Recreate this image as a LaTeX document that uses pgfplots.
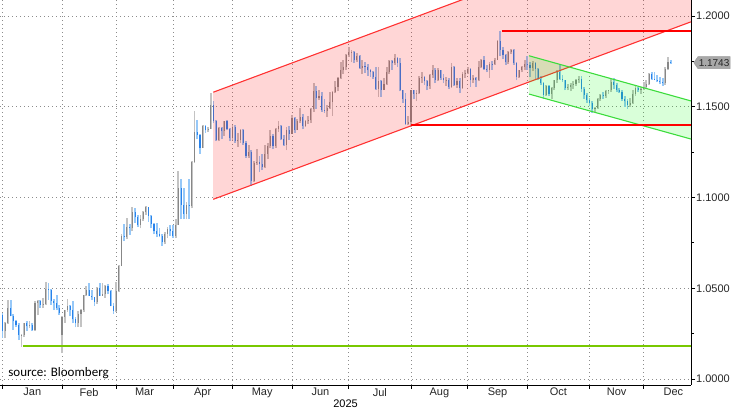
\documentclass[border=0pt]{standalone}
\usepackage{fontspec}
\setmainfont{Liberation Sans}
\newfontfamily\srcfont{Carlito}
\usepackage{pgfplots}
\usepackage{pgfplotstable}
\pgfplotsset{compat=1.18}
\usetikzlibrary{shapes.symbols}

\definecolor{upbody}{RGB}{135,135,135}
\definecolor{upwick}{RGB}{195,195,195}
\definecolor{dnbody}{RGB}{40,130,235}
\definecolor{dnwick}{RGB}{150,200,248}
\definecolor{chanred}{RGB}{255,50,50}
\definecolor{changreen}{RGB}{60,220,60}
\definecolor{limeline}{RGB}{120,200,0}
\definecolor{tagfill}{RGB}{168,168,168}

% EUR/USD daily bars, i = trading day of 2025 (0 = 2 Jan)
\pgfplotstableread{
i o h l c
0 1.0354 1.0363 1.0226 1.0265
1 1.0265 1.0313 1.0224 1.0308
2 1.0308 1.0437 1.0303 1.0390
3 1.0390 1.0436 1.0345 1.0345
4 1.0345 1.0360 1.0272 1.0318
5 1.0318 1.0325 1.0286 1.0300
6 1.0300 1.0310 1.0214 1.0243
7 1.0243 1.0248 1.0178 1.0245
8 1.0245 1.0310 1.0230 1.0307
9 1.0307 1.0320 1.0267 1.0290
10 1.0290 1.0318 1.0280 1.0300
11 1.0300 1.0310 1.0266 1.0272
12 1.0272 1.0432 1.0266 1.0420
13 1.0420 1.0433 1.0350 1.0430
14 1.0430 1.0437 1.0392 1.0410
15 1.0410 1.0445 1.0390 1.0415
16 1.0415 1.0533 1.0410 1.0495
17 1.0495 1.0530 1.0435 1.0490
18 1.0490 1.0495 1.0410 1.0430
19 1.0430 1.0440 1.0380 1.0420
20 1.0420 1.0465 1.0380 1.0390
21 1.0390 1.0410 1.0355 1.0362
22 1.0245 1.0345 1.0141 1.0344
23 1.0344 1.0380 1.0310 1.0378
24 1.0378 1.0442 1.0370 1.0403
25 1.0403 1.0410 1.0345 1.0380
26 1.0380 1.0430 1.0306 1.0328
27 1.0328 1.0340 1.0285 1.0307
28 1.0307 1.0375 1.0286 1.0360
29 1.0360 1.0384 1.0285 1.0381
30 1.0381 1.0464 1.0368 1.0464
31 1.0464 1.0513 1.0458 1.0490
32 1.0490 1.0528 1.0456 1.0459
33 1.0459 1.0491 1.0434 1.0449
34 1.0449 1.0452 1.0402 1.0425
35 1.0425 1.0505 1.0415 1.0500
36 1.0500 1.0529 1.0456 1.0460
37 1.0460 1.0529 1.0460 1.0466
38 1.0466 1.0520 1.0448 1.0510
39 1.0510 1.0525 1.0466 1.0485
40 1.0485 1.0490 1.0400 1.0400
41 1.0400 1.0420 1.0360 1.0375
42 1.0375 1.0533 1.0370 1.0485
43 1.0485 1.0630 1.0480 1.0625
44 1.0625 1.0797 1.0620 1.0790
45 1.0790 1.0854 1.0760 1.0785
46 1.0785 1.0888 1.0770 1.0835
47 1.0835 1.0855 1.0795 1.0833
48 1.0833 1.0947 1.0813 1.0918
49 1.0918 1.0940 1.0860 1.0890
50 1.0890 1.0903 1.0840 1.0850
51 1.0850 1.0905 1.0830 1.0880
52 1.0880 1.0926 1.0870 1.0920
53 1.0920 1.0955 1.0905 1.0945
54 1.0945 1.0950 1.0865 1.0900
55 1.0900 1.0905 1.0830 1.0855
56 1.0855 1.0860 1.0797 1.0815
57 1.0815 1.0860 1.0780 1.0800
58 1.0800 1.0830 1.0780 1.0790
59 1.0790 1.0800 1.0735 1.0753
60 1.0753 1.0808 1.0742 1.0800
61 1.0800 1.0835 1.0775 1.0825
62 1.0825 1.0850 1.0790 1.0815
63 1.0815 1.0850 1.0778 1.0790
64 1.0790 1.0880 1.0775 1.0850
65 1.0850 1.1145 1.0850 1.1050
66 1.1050 1.1100 1.0880 1.0960
67 1.0960 1.1050 1.0880 1.0910
68 1.0910 1.0975 1.0880 1.0960
69 1.0960 1.1100 1.0880 1.0955
70 1.0955 1.1200 1.0940 1.1195
71 1.1195 1.1475 1.1190 1.1360
72 1.1360 1.1425 1.1320 1.1345
73 1.1345 1.1350 1.1240 1.1275
74 1.1275 1.1400 1.1270 1.1395
75 1.1395 1.1400 1.1355 1.1370
76 1.1370 1.1390 1.1360 1.1380
77 1.1380 1.1573 1.1380 1.1510
78 1.1510 1.1530 1.1410 1.1420
79 1.1420 1.1425 1.1310 1.1315
80 1.1315 1.1390 1.1310 1.1385
81 1.1385 1.1390 1.1320 1.1365
82 1.1365 1.1420 1.1340 1.1420
83 1.1420 1.1425 1.1370 1.1380
84 1.1380 1.1385 1.1310 1.1330
85 1.1330 1.1400 1.1315 1.1390
86 1.1390 1.1400 1.1300 1.1310
87 1.1310 1.1357 1.1280 1.1315
88 1.1315 1.1380 1.1300 1.1370
89 1.1370 1.1380 1.1290 1.1300
90 1.1300 1.1310 1.1220 1.1230
91 1.1230 1.1290 1.1220 1.1250
92 1.1250 1.1260 1.1065 1.1090
93 1.1090 1.1200 1.1085 1.1190
94 1.1190 1.1265 1.1180 1.1195
95 1.1195 1.1230 1.1140 1.1185
96 1.1185 1.1240 1.1150 1.1170
97 1.1170 1.1290 1.1160 1.1240
98 1.1240 1.1300 1.1210 1.1285
99 1.1285 1.1370 1.1270 1.1340
100 1.1340 1.1350 1.1265 1.1285
101 1.1285 1.1385 1.1275 1.1375
102 1.1375 1.1420 1.1360 1.1395
103 1.1395 1.1400 1.1315 1.1325
104 1.1325 1.1345 1.1285 1.1290
105 1.1290 1.1390 1.1260 1.1370
106 1.1370 1.1395 1.1315 1.1350
107 1.1350 1.1455 1.1350 1.1440
108 1.1440 1.1445 1.1355 1.1370
109 1.1370 1.1435 1.1370 1.1420
110 1.1420 1.1495 1.1410 1.1445
111 1.1445 1.1460 1.1375 1.1395
112 1.1395 1.1425 1.1390 1.1420
113 1.1420 1.1450 1.1405 1.1425
114 1.1425 1.1495 1.1410 1.1485
115 1.1485 1.1632 1.1470 1.1585
116 1.1585 1.1615 1.1490 1.1550
117 1.1550 1.1590 1.1535 1.1560
118 1.1560 1.1580 1.1470 1.1480
119 1.1480 1.1540 1.1465 1.1478
120 1.1478 1.1510 1.1445 1.1495
121 1.1495 1.1580 1.1490 1.1525
122 1.1525 1.1585 1.1450 1.1580
123 1.1580 1.1640 1.1575 1.1610
124 1.1610 1.1665 1.1585 1.1660
125 1.1660 1.1745 1.1655 1.1700
126 1.1700 1.1755 1.1680 1.1720
127 1.1720 1.1790 1.1700 1.1785
128 1.1785 1.1830 1.1775 1.1800
129 1.1800 1.1810 1.1745 1.1802
130 1.1802 1.1805 1.1740 1.1755
131 1.1755 1.1795 1.1745 1.1780
132 1.1780 1.1785 1.1710 1.1715
133 1.1715 1.1755 1.1680 1.1725
134 1.1725 1.1745 1.1685 1.1720
135 1.1720 1.1735 1.1670 1.1700
136 1.1700 1.1710 1.1665 1.1690
137 1.1690 1.1695 1.1655 1.1665
138 1.1665 1.1720 1.1595 1.1600
139 1.1600 1.1720 1.1555 1.1640
140 1.1640 1.1645 1.1555 1.1595
141 1.1595 1.1660 1.1590 1.1625
142 1.1625 1.1720 1.1620 1.1690
143 1.1690 1.1760 1.1680 1.1750
144 1.1750 1.1760 1.1705 1.1740
145 1.1740 1.1790 1.1730 1.1770
146 1.1770 1.1775 1.1720 1.1740
147 1.1740 1.1770 1.1585 1.1590
148 1.1590 1.1595 1.1520 1.1545
149 1.1545 1.1575 1.1400 1.1405
150 1.1405 1.1450 1.1400 1.1415
151 1.1415 1.1590 1.1390 1.1590
152 1.1590 1.1595 1.1540 1.1570
153 1.1570 1.1590 1.1530 1.1575
154 1.1575 1.1670 1.1570 1.1660
155 1.1660 1.1690 1.1630 1.1665
156 1.1665 1.1670 1.1620 1.1640
157 1.1640 1.1645 1.1590 1.1615
158 1.1615 1.1680 1.1600 1.1675
159 1.1675 1.1730 1.1660 1.1705
160 1.1705 1.1715 1.1630 1.1650
161 1.1650 1.1715 1.1640 1.1700
162 1.1700 1.1705 1.1650 1.1660
163 1.1660 1.1680 1.1630 1.1645
164 1.1645 1.1665 1.1615 1.1650
165 1.1650 1.1660 1.1600 1.1610
166 1.1610 1.1740 1.1605 1.1720
167 1.1720 1.1725 1.1615 1.1620
168 1.1620 1.1660 1.1605 1.1640
169 1.1640 1.1660 1.1575 1.1605
170 1.1605 1.1690 1.1600 1.1680
171 1.1680 1.1700 1.1660 1.1685
172 1.1685 1.1720 1.1680 1.1710
173 1.1710 1.1715 1.1610 1.1645
174 1.1645 1.1675 1.1630 1.1660
175 1.1660 1.1665 1.1610 1.1645
176 1.1645 1.1750 1.1640 1.1720
177 1.1720 1.1765 1.1715 1.1760
178 1.1760 1.1780 1.1705 1.1710
179 1.1710 1.1730 1.1690 1.1700
180 1.1700 1.1745 1.1660 1.1735
181 1.1735 1.1750 1.1705 1.1733
182 1.1733 1.1770 1.1730 1.1760
183 1.1760 1.1870 1.1755 1.1865
184 1.1865 1.1918 1.1780 1.1815
185 1.1815 1.1830 1.1765 1.1785
186 1.1785 1.1790 1.1730 1.1745
187 1.1745 1.1805 1.1735 1.1800
188 1.1800 1.1820 1.1790 1.1815
189 1.1815 1.1820 1.1730 1.1740
190 1.1740 1.1745 1.1645 1.1665
191 1.1665 1.1705 1.1660 1.1700
192 1.1700 1.1725 1.1690 1.1720
193 1.1720 1.1755 1.1700 1.1735
194 1.1735 1.1780 1.1705 1.1730
195 1.1730 1.1745 1.1665 1.1715
196 1.1715 1.1750 1.1695 1.1740
197 1.1740 1.1745 1.1650 1.1710
198 1.1710 1.1715 1.1645 1.1655
199 1.1655 1.1670 1.1620 1.1630
200 1.1630 1.1635 1.1540 1.1565
201 1.1565 1.1620 1.1560 1.1615
202 1.1615 1.1620 1.1560 1.1570
203 1.1570 1.1610 1.1545 1.1605
204 1.1605 1.1650 1.1590 1.1645
205 1.1645 1.1700 1.1630 1.1690
206 1.1690 1.1728 1.1650 1.1655
207 1.1655 1.1675 1.1635 1.1645
208 1.1645 1.1650 1.1590 1.1605
209 1.1605 1.1625 1.1590 1.1610
210 1.1610 1.1630 1.1585 1.1620
211 1.1620 1.1640 1.1600 1.1625
212 1.1625 1.1655 1.1615 1.1645
213 1.1645 1.1670 1.1630 1.1655
214 1.1655 1.1670 1.1580 1.1600
215 1.1600 1.1610 1.1545 1.1565
216 1.1565 1.1575 1.1520 1.1535
217 1.1535 1.1550 1.1505 1.1520
218 1.1520 1.1530 1.1468 1.1485
219 1.1485 1.1500 1.1470 1.1495
220 1.1495 1.1550 1.1490 1.1545
221 1.1545 1.1570 1.1530 1.1565
222 1.1565 1.1580 1.1545 1.1560
223 1.1560 1.1590 1.1550 1.1585
224 1.1585 1.1595 1.1570 1.1590
225 1.1590 1.1655 1.1580 1.1635
226 1.1635 1.1660 1.1600 1.1620
227 1.1620 1.1630 1.1580 1.1595
228 1.1595 1.1605 1.1575 1.1580
229 1.1580 1.1590 1.1530 1.1545
230 1.1545 1.1560 1.1500 1.1530
231 1.1530 1.1540 1.1490 1.1510
232 1.1510 1.1550 1.1500 1.1520
233 1.1520 1.1590 1.1515 1.1570
234 1.1570 1.1615 1.1560 1.1605
235 1.1605 1.1610 1.1580 1.1595
236 1.1595 1.1610 1.1570 1.1600
237 1.1600 1.1635 1.1590 1.1610
238 1.1610 1.1645 1.1600 1.1625
239 1.1625 1.1685 1.1620 1.1680
240 1.1680 1.1690 1.1650 1.1655
241 1.1655 1.1690 1.1645 1.1650
242 1.1650 1.1675 1.1635 1.1640
243 1.1640 1.1665 1.1625 1.1635
244 1.1635 1.1660 1.1615 1.1630
245 1.1630 1.1720 1.1620 1.1710
246 1.1710 1.1775 1.1700 1.1745
247 1.1745 1.1755 1.1738 1.1743
}\eurusd

\pgfplotsset{
    bar part/.style={only marks, mark=*, mark size=0.1pt, mark options={opacity=0},
        error bars/y dir=plus, error bars/y explicit, error bars/error mark=none},
    up day/.style={restrict expr to domain={\thisrow{c}-\thisrow{o}}{0:1}},
    down day/.style={restrict expr to domain={\thisrow{c}-\thisrow{o}}{-1:-0.00001}},
}

\begin{document}
\begin{tikzpicture}
\useasboundingbox (0,0) rectangle (731pt,409pt);
\begin{axis}[
    at={(0pt,24pt)}, anchor=south west,
    scale only axis, width=691pt, height=385pt,
    xmin=-0.924, xmax=254.5,
    ymin=0.99669, ymax=1.20882,
    axis x line*=bottom, axis y line*=right,
    axis line style={-, black, line width=0.8pt},
    tick align=outside,
    xtick={0,22,42,63,85,107,128,151,172,194,217,237},
    xticklabels={},
    extra x ticks={11,32,52.5,74,96,117.5,139.5,161.5,183,205.5,227,248},
    extra x tick labels={Jan,Feb,Mar,Apr,May,Jun,Jul,Aug,Sep,Oct,Nov,Dec},
    extra x tick style={grid=none, major tick length=0pt,
        xticklabel style={inner sep=1pt, yshift=-2pt}},
    ytick={1,1.05,1.1,1.15,1.2},
    yticklabels={1.0000,1.0500,1.1000,1.1500,1.2000},
    minor ytick={1.025,1.075,1.125,1.175},
    major tick length=4pt, minor tick length=3pt,
    every tick/.style={black, line width=0.8pt},
    yticklabel style={inner sep=1pt, anchor=west},
    tick label style={font=\fontsize{11}{13}\selectfont, text=black!85},
    xmajorgrids, ymajorgrids,
    grid style={black!45, line width=0.7pt, dash pattern=on 0.8pt off 3.2pt},
    xlabel={2025},
    xlabel style={font=\fontsize{11}{13}\selectfont, at={(axis description cs:0.5,0)},
        anchor=base, yshift=-23pt},
]
% up days: light range, darker open-close part
\addplot[bar part, up day, error bars/error bar style={line width=1.8pt, draw=upwick}]
    table[x=i, y=l, y error expr=\thisrow{h}-\thisrow{l}] {\eurusd};
\addplot[bar part, up day, error bars/error bar style={line width=1.1pt, draw=upbody}]
    table[x=i, y=o, y error expr=\thisrow{c}-\thisrow{o}] {\eurusd};
% down days
\addplot[bar part, down day, error bars/error bar style={line width=1.8pt, draw=dnwick}]
    table[x=i, y=l, y error expr=\thisrow{h}-\thisrow{l}] {\eurusd};
\addplot[bar part, down day, error bars/error bar style={line width=1.1pt, draw=dnbody}]
    table[x=i, y=c, y error expr=\thisrow{o}-\thisrow{c}] {\eurusd};

% rising channel
\addplot[draw=none, fill=red, fill opacity=0.16]
    coordinates {(77.9,1.0990) (254.5,1.1968) (254.5,1.2558) (77.9,1.1580) (77.9,1.0990)};
\addplot[chanred, line width=1.1pt] coordinates {(77.9,1.1580) (254.5,1.2558)};
\addplot[chanred, line width=1.1pt] coordinates {(77.9,1.0990) (254.5,1.1968)};
% falling channel
\addplot[draw=none, fill=green, fill opacity=0.15]
    coordinates {(194.6,1.1570) (254.5,1.1322) (254.5,1.1532) (194.6,1.1781) (194.6,1.1570)};
\addplot[changreen, line width=1.1pt] coordinates {(194.6,1.1781) (254.5,1.1532)};
\addplot[changreen, line width=1.1pt] coordinates {(194.6,1.1570) (254.5,1.1322)};
% horizontal levels
\addplot[red, line width=2.6pt] coordinates {(184.6,1.1917) (254.5,1.1917)};
\addplot[red, line width=2.6pt] coordinates {(151,1.1399) (254.5,1.1399)};
\addplot[limeline, line width=2.6pt] coordinates {(7.6,1.0182) (254.5,1.0182)};

\node[anchor=base west, font=\srcfont\fontsize{13}{15}\selectfont]
    at (rel axis cs:0.007,0.021) {source: Bloomberg};
\coordinate (last) at (axis cs:254.5,1.1743);
\end{axis}
\node[signal, signal to=west, signal pointer angle=110, fill=tagfill, draw=black!40,
    inner xsep=0.8pt, inner ysep=1pt, minimum height=12pt, anchor=west,
    font=\fontsize{10}{12}\selectfont, text=black!85] at ([xshift=2.5pt]last) {1.1743};
\end{tikzpicture}
\end{document}
